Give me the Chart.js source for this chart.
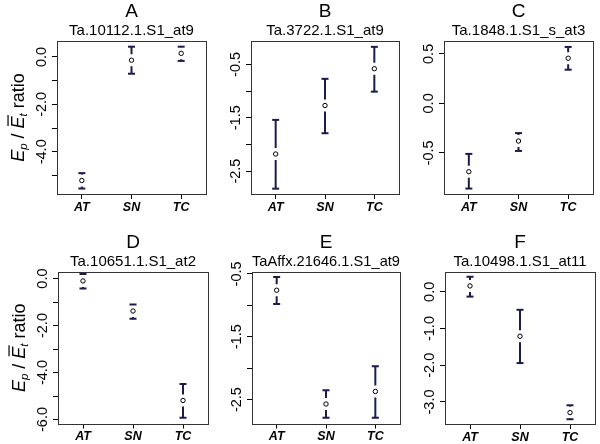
<!DOCTYPE html>
<html><head><meta charset="utf-8">
<script src="https://cdn.jsdelivr.net/npm/chart.js@4.4.0/dist/chart.umd.min.js"></script>
<style>
html,body{margin:0;padding:0;background:#fff;overflow:hidden;width:600px;height:444px}
#wrap{position:relative;width:600px;height:444px;overflow:hidden}
.cell{position:absolute}
canvas{display:block}
</style></head><body><div id="wrap"></div>
<script>
// ---------- data ----------
const categories = ['AT', 'SN', 'TC'];
const panelLetters = ['A', 'B', 'C', 'D', 'E', 'F'];
const probeNames = ['Ta.10112.1.S1_at9', 'Ta.3722.1.S1_at9', 'Ta.1848.1.S1_s_at3',
                    'Ta.10651.1.S1_at2', 'TaAffx.21646.1.S1_at9', 'Ta.10498.1.S1_at11'];

const meanA = [-5.21, -0.14, 0.15];   const lowA = [-5.55, -0.71, -0.17]; const highA = [-4.90, 0.43, 0.43];
const meanB = [-2.18, -1.27, -0.58];  const lowB = [-2.83, -1.79, -1.01]; const highB = [-1.54, -0.77, -0.17];
const meanC = [-0.69, -0.38, 0.456];  const lowC = [-0.86, -0.48, 0.34];  const highC = [-0.51, -0.30, 0.57];
const meanD = [-0.10, -1.38, -5.19];  const lowD = [-0.42, -1.71, -5.92]; const highD = [0.19, -1.10, -4.49];
const meanE = [-0.76, -2.57, -2.37];  const lowE = [-0.98, -2.79, -2.79]; const highE = [-0.55, -2.35, -1.97];
const meanF = [0.16, -1.21, -3.29];   const lowF = [-0.13, -1.94, -3.47]; const highF = [0.41, -0.49, -3.09];

const ticksA = [0, -1, -2, -3, -4, -5];        const tickLabelsA = ['0.0', '', '-2.0', '', '-4.0', ''];
const ticksB = [-0.5, -1, -1.5, -2, -2.5];     const tickLabelsB = ['-0.5', '', '-1.5', '', '-2.5'];
const ticksC = [0.5, 0, -0.5];                 const tickLabelsC = ['0.5', '0.0', '-0.5'];
const ticksD = [0, -1, -2, -3, -4, -5, -6];    const tickLabelsD = ['0.0', '', '-2.0', '', '-4.0', '', '-6.0'];
const ticksE = [-0.5, -1, -1.5, -2, -2.5];     const tickLabelsE = ['-0.5', '', '-1.5', '', '-2.5'];
const ticksF = [0, -1, -2, -3];                const tickLabelsF = ['0.0', '-1.0', '-2.0', '-3.0'];

const rangeA = [-5.78, 0.67];
const rangeB = [-2.93, -0.06];
const rangeC = [-0.915, 0.63];
const rangeD = [-6.17, 0.28];
const rangeE = [-2.88, -0.47];
const rangeF = [-3.60, 0.54];

// ---------- layout / style ----------
const FONT = "'Liberation Sans', Arial, Helvetica, sans-serif";
const NAVY = '#1b1b4d';
const GAP_PX = 6;
const BOXES = [
  {l: 57, r: 210, t: 41, b: 194}, {l: 251, r: 403, t: 41, b: 194}, {l: 444, r: 597, t: 41, b: 194},
  {l: 58, r: 212, t: 272, b: 423.5}, {l: 252, r: 404, t: 272, b: 423.5}, {l: 445, r: 599, t: 272, b: 424}
];
Chart.defaults.font.family = FONT;
Chart.defaults.color = '#000';

const panels = [
  {mean: meanA, low: lowA, high: highA, ticks: ticksA, labels: tickLabelsA, range: rangeA},
  {mean: meanB, low: lowB, high: highB, ticks: ticksB, labels: tickLabelsB, range: rangeB},
  {mean: meanC, low: lowC, high: highC, ticks: ticksC, labels: tickLabelsC, range: rangeC},
  {mean: meanD, low: lowD, high: highD, ticks: ticksD, labels: tickLabelsD, range: rangeD},
  {mean: meanE, low: lowE, high: highE, ticks: ticksE, labels: tickLabelsE, range: rangeE},
  {mean: meanF, low: lowF, high: highF, ticks: ticksF, labels: tickLabelsF, range: rangeF}
];

const framePlugin = {
  id: 'frame',
  beforeDatasetsDraw(chart) {
    const {ctx, chartArea: a} = chart;
    ctx.save();
    ctx.strokeStyle = '#333';
    ctx.lineWidth = 1;
    const l = Math.round(a.left), t = Math.round(a.top), r = Math.round(a.right), b = Math.round(a.bottom);
    ctx.strokeRect(l + 0.5, t + 0.5, r - l, b - t);
    ctx.restore();
  }
};

const yTitlePlugin = {
  id: 'ytitle',
  afterDraw(chart) {
    const ctx = chart.ctx, a = chart.chartArea;
    const cy = (a.top + a.bottom) / 2, cx = 17;
    const big = 18, small = 11.5;
    const parts = [
      {t: 'E', f: `italic ${big}px ${FONT}`, dy: 0},
      {t: 'p', f: `italic ${small}px ${FONT}`, dy: 3.5},
      {t: ' / ', f: `${big}px ${FONT}`, dy: 0},
      {t: 'E', f: `italic ${big}px ${FONT}`, dy: 0, over: true},
      {t: 't', f: `italic ${small}px ${FONT}`, dy: 3.5},
      {t: ' ratio', f: `${big}px ${FONT}`, dy: 0}
    ];
    ctx.save();
    ctx.translate(cx + 6.5, cy);
    ctx.rotate(-Math.PI / 2);
    ctx.fillStyle = '#000';
    ctx.textBaseline = 'alphabetic';
    ctx.textAlign = 'left';
    let total = 0;
    parts.forEach(p => { ctx.font = p.f; p.w = ctx.measureText(p.t).width; total += p.w; });
    let x = -total / 2;
    parts.forEach(p => {
      ctx.font = p.f;
      ctx.fillText(p.t, x, p.dy);
      if (p.over) {
        ctx.strokeStyle = '#000';
        ctx.lineWidth = 1.2;
        ctx.beginPath();
        const yy = -big * 0.72 - 2.5;
        ctx.moveTo(x + 2.5, yy);
        ctx.lineTo(x + p.w + 1.5, yy);
        ctx.stroke();
      }
      x += p.w;
    });
    ctx.restore();
  }
};

const wrap = document.getElementById('wrap');

panels.forEach((p, i) => {
  const box = BOXES[i];
  const rowTop = i < 3 ? 0 : 222;
  const cl = box.l - 57, W = Math.ceil(box.r + 2 - cl), H = 222;
  const div = document.createElement('div');
  div.className = 'cell';
  div.style.left = cl + 'px'; div.style.top = rowTop + 'px';
  div.style.width = W + 'px'; div.style.height = H + 'px';
  const cv = document.createElement('canvas');
  cv.width = W; cv.height = H;
  cv.style.width = W + 'px'; cv.style.height = H + 'px';
  div.appendChild(cv); wrap.appendChild(div);

  const xH = rowTop + 222 - box.b;
  const padTop = box.t - rowTop - 41;
  // gap around the centre point (in value units), like plotCI's gap
  const g = GAP_PX * (p.range[1] - p.range[0]) / (box.b - box.t);

  const datasets = [];
  // centre circles (first = drawn on top)
  datasets.push({
    data: p.mean.map((m, k) => ({x: categories[k], y: m})),
    showLine: false, pointStyle: 'circle', pointRadius: 2.2,
    pointBackgroundColor: '#fff', pointBorderWidth: 1, pointBorderColor: '#000'
  });
  // caps
  datasets.push({
    data: p.mean.map((m, k) => ({x: categories[k], y: p.high[k]}))
           .concat(p.mean.map((m, k) => ({x: categories[k], y: p.low[k]}))),
    showLine: false, pointStyle: 'line', pointRadius: 3.5, pointBorderWidth: 2,
    pointBorderColor: NAVY, pointBackgroundColor: NAVY
  });
  // vertical segments, broken around the centre
  p.mean.forEach((m, k) => {
    if (p.high[k] > m + g) {
      datasets.push({
        data: [{x: categories[k], y: p.high[k]}, {x: categories[k], y: m + g}],
        borderColor: NAVY, borderWidth: 2, fill: false, pointRadius: 0
      });
    }
    if (p.low[k] < m - g) {
      datasets.push({
        data: [{x: categories[k], y: m - g}, {x: categories[k], y: p.low[k]}],
        borderColor: NAVY, borderWidth: 2, fill: false, pointRadius: 0
      });
    }
  });

  const plugins = [framePlugin];
  if (i === 0 || i === 3) plugins.push(yTitlePlugin);

  new Chart(cv, {
    type: 'line',
    data: {labels: categories, datasets},
    plugins,
    options: {
      responsive: false, animation: false, devicePixelRatio: 1, events: [],
      layout: {padding: {top: padTop, right: 2, bottom: 0, left: 0}},
      plugins: {
        legend: {display: false}, tooltip: {enabled: false},
        title: {display: true, text: panelLetters[i], fullSize: false, color: '#000',
                font: {family: FONT, size: 19, weight: 'normal', lineHeight: 1},
                padding: {top: 2.5, bottom: 0}},
        subtitle: {display: true, text: probeNames[i], fullSize: false, color: '#000',
                   font: {family: FONT, size: 15, weight: 'normal', lineHeight: 1},
                   padding: {top: 1.5, bottom: 3}}
      },
      scales: {
        x: {
          type: 'category', offset: true,
          grid: {display: true, drawOnChartArea: false, drawTicks: true, tickLength: 5, tickColor: '#000', tickWidth: 1, offset: false},
          border: {display: false},
          ticks: {font: {family: FONT, size: 12.5, style: 'italic', weight: 'bold'}, color: '#000',
                  padding: 1, maxRotation: 0, autoSkip: false},
          afterFit(s) { s.height = xH; s.paddingLeft = 0; s.paddingRight = 0; }
        },
        y: {
          type: 'linear', min: p.range[0], max: p.range[1],
          afterBuildTicks(s) { s.ticks = p.ticks.map(v => ({value: v})); },
          grid: {display: true, drawOnChartArea: false, drawTicks: true, tickLength: 5, tickColor: '#000', tickWidth: 1},
          border: {display: false},
          ticks: {autoSkip: false, minRotation: 90, maxRotation: 90, crossAlign: 'center', padding: -2.2,
                  font: {family: FONT, size: 14.5}, color: '#000',
                  callback: (v, idx) => p.labels[idx]},
          afterFit(s) { s.width = 57; s.paddingTop = 0; s.paddingBottom = 0; }
        }
      }
    }
  });
});
</script></body></html>
